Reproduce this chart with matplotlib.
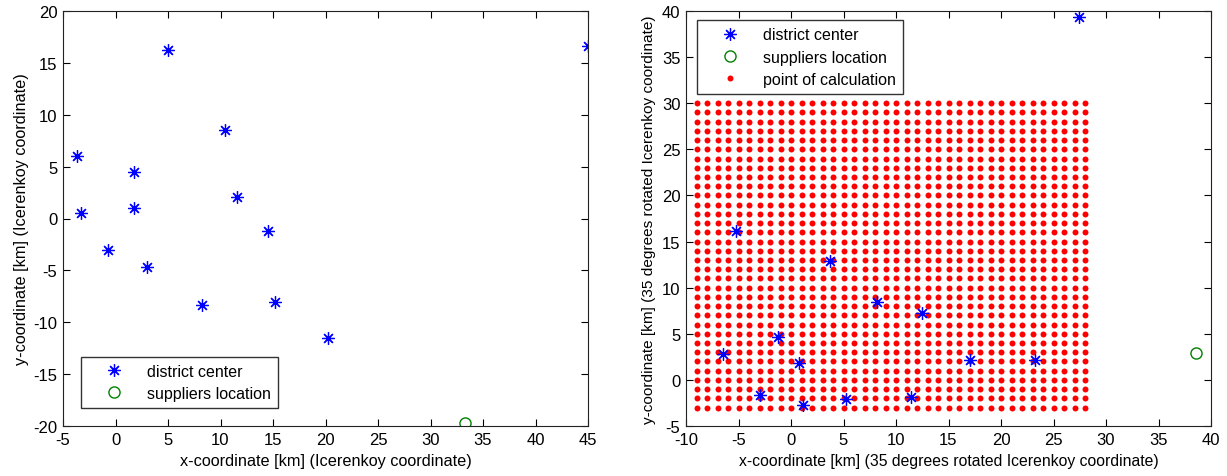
import matplotlib
matplotlib.use("Agg")
import matplotlib.pyplot as plt
import numpy as np

plt.rcParams["font.family"] = ["Liberation Sans", "DejaVu Sans"]
plt.rcParams["font.size"] = 11
plt.rcParams["axes.unicode_minus"] = False

# Left panel: Icerenkoy coordinates
district_x = [5.0, 45.0, 10.4, -3.7, 1.8, 11.6, -3.3, 1.8, 14.5, -0.7, 3.0, 8.2, 15.2, 20.2]
district_y = [16.2, 16.6, 8.5, 6.0, 4.5, 2.1, 0.5, 1.0, -1.2, -3.0, -4.7, -8.3, -8.0, -11.5]
supplier_x = [33.3]
supplier_y = [-19.7]

# Right panel: 35 degrees rotated coordinates
rot_district_x = [27.4, -5.2, 3.7, 8.2, 12.5, -1.2, -6.5, 0.8, 17.0, 23.2, -3.0, 1.1, 5.2, 11.4]
rot_district_y = [39.3, 16.1, 12.9, 8.4, 7.3, 4.7, 2.8, 1.8, 2.2, 2.2, -1.6, -2.7, -2.1, -1.9]
rot_supplier_x = [38.6]
rot_supplier_y = [2.9]

# calculation grid (1 km spacing)
grid_x = list(range(-9, 29))
grid_y = list(range(-3, 31))

W, H = 1227, 477
fig = plt.figure(figsize=(W / 100, H / 100), dpi=100)
ax1 = fig.add_axes([63 / W, 1 - 427 / H, 525 / W, 415 / H])
ax2 = fig.add_axes([686 / W, 1 - 427 / H, 525 / W, 415 / H])

star = (8, 2, 0)
leg_kw = dict(fancybox=False, edgecolor="#333333", framealpha=1, handlelength=3.2,
              handletextpad=0.5, labelspacing=0.45, borderpad=0.45,
              borderaxespad=0, fontsize=11.5)

# left panel
ax1.plot(district_x, district_y, linestyle="none", marker=star, markersize=9,
         markeredgewidth=0.9, color="blue", label="district center")
ax1.plot(supplier_x, supplier_y, linestyle="none", marker="o", markersize=8,
         markerfacecolor="none", markeredgecolor="#008000", markeredgewidth=1.0,
         label="suppliers location")
ax1.set_xlim(-5, 45)
ax1.set_ylim(-20, 20)
ax1.set_xticks(np.arange(-5, 46, 5))
ax1.set_yticks(np.arange(-20, 21, 5))
ax1.set_xlabel("x-coordinate [km] (Icerenkoy coordinate)", fontsize=11.7, labelpad=5)
ax1.set_ylabel("y-coordinate [km] (Icerenkoy coordinate)", fontsize=11.7, labelpad=3)
ax1.legend(loc="lower left", bbox_to_anchor=(0.034, 0.043), **leg_kw)

# right panel
gx, gy = np.meshgrid(grid_x, grid_y)
ax2.plot(rot_district_x, rot_district_y, linestyle="none", marker=star, markersize=9,
         markeredgewidth=0.9, color="blue", label="district center", zorder=3)
ax2.plot(rot_supplier_x, rot_supplier_y, linestyle="none", marker="o", markersize=8,
         markerfacecolor="none", markeredgecolor="#008000", markeredgewidth=1.0,
         label="suppliers location")
ax2.plot(gx.ravel(), gy.ravel(), linestyle="none", marker="o", markersize=4.3,
         markeredgewidth=0, color="red", label="point of calculation", zorder=2)
ax2.set_xlim(-10, 40)
ax2.set_ylim(-5, 40)
ax2.set_xticks(np.arange(-10, 41, 5))
ax2.set_yticks(np.arange(-5, 41, 5))
ax2.set_xlabel("x-coordinate [km] (35 degrees rotated Icerenkoy coordinate)",
               fontsize=11.3, labelpad=5)
ax2.set_ylabel("y-coordinate [km] (35 degrees rotated Icerenkoy coordinate)",
               fontsize=11.1, labelpad=4)
ax2.legend(loc="upper left", bbox_to_anchor=(0.021, 0.978), **leg_kw)

for ax in (ax1, ax2):
    ax.tick_params(direction="in", top=True, right=True, length=5, width=0.8,
                   labelsize=12, pad=4)
    for s in ax.spines.values():
        s.set_linewidth(0.8)
        s.set_color("#222222")

fig.savefig("out.png", dpi=100)
